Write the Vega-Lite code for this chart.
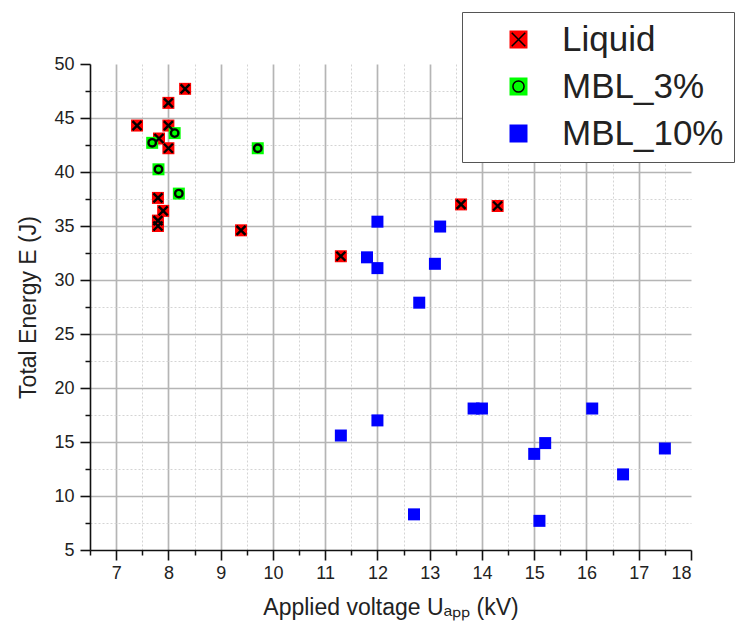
{
  "$schema": "https://vega.github.io/schema/vega-lite/v6.json",
  "width": 601,
  "height": 486,
  "autosize": {"type": "none"},
  "padding": {"left": 90, "top": 64, "right": 50, "bottom": 80},
  "background": "white",
  "config": {
    "view": {"stroke": null},
    "font": "Liberation Sans",
    "axis": {
      "labelFont": "Liberation Sans",
      "titleFont": "Liberation Sans",
      "labelFontSize": 18,
      "titleFontSize": 22,
      "titleFontWeight": "normal",
      "labelColor": "#222",
      "titleColor": "#222",
      "tickColor": "#111",
      "domainColor": "#111"
    }
  },
  "data": {
    "values": [
      {"U": 8.32, "E": 47.7, "group": "Liquid"},
      {"U": 8.0, "E": 46.4, "group": "Liquid"},
      {"U": 7.4, "E": 44.3, "group": "Liquid"},
      {"U": 8.0, "E": 44.3, "group": "Liquid"},
      {"U": 7.82, "E": 43.1, "group": "Liquid"},
      {"U": 8.0, "E": 42.2, "group": "Liquid"},
      {"U": 7.8, "E": 37.6, "group": "Liquid"},
      {"U": 7.9, "E": 36.4, "group": "Liquid"},
      {"U": 7.8, "E": 35.5, "group": "Liquid"},
      {"U": 7.8, "E": 35.0, "group": "Liquid"},
      {"U": 9.39, "E": 34.6, "group": "Liquid"},
      {"U": 11.3, "E": 32.2, "group": "Liquid"},
      {"U": 13.6, "E": 37.0, "group": "Liquid"},
      {"U": 14.3, "E": 36.85, "group": "Liquid"},
      {"U": 8.12, "E": 43.6, "group": "MBL_3%"},
      {"U": 7.69, "E": 42.7, "group": "MBL_3%"},
      {"U": 9.71, "E": 42.2, "group": "MBL_3%"},
      {"U": 7.81, "E": 40.25, "group": "MBL_3%"},
      {"U": 8.2, "E": 38.0, "group": "MBL_3%"},
      {"U": 12.0, "E": 35.4, "group": "MBL_10%"},
      {"U": 13.2, "E": 34.95, "group": "MBL_10%"},
      {"U": 11.8, "E": 32.1, "group": "MBL_10%"},
      {"U": 12.0, "E": 31.1, "group": "MBL_10%"},
      {"U": 13.1, "E": 31.5, "group": "MBL_10%"},
      {"U": 12.8, "E": 27.9, "group": "MBL_10%"},
      {"U": 12.0, "E": 17.0, "group": "MBL_10%"},
      {"U": 13.84, "E": 18.1, "group": "MBL_10%"},
      {"U": 14.0, "E": 18.1, "group": "MBL_10%"},
      {"U": 16.11, "E": 18.1, "group": "MBL_10%"},
      {"U": 15.21, "E": 14.9, "group": "MBL_10%"},
      {"U": 15.0, "E": 13.9, "group": "MBL_10%"},
      {"U": 17.5, "E": 14.4, "group": "MBL_10%"},
      {"U": 16.7, "E": 12.0, "group": "MBL_10%"},
      {"U": 12.7, "E": 8.3, "group": "MBL_10%"},
      {"U": 15.1, "E": 7.7, "group": "MBL_10%"},
      {"U": 11.3, "E": 15.6, "group": "MBL_10%"}
    ]
  },
  "layer": [
    {
      "mark": {"type": "point", "opacity": 0},
      "encoding": {
        "x": {
          "field": "U", "type": "quantitative",
          "scale": {"domain": [6.5, 18], "nice": false, "zero": false},
          "axis": {
            "orient": "bottom", "title": null, "labels": false, "domain": false,
            "values": [6.5, 7.5, 8.5, 9.5, 10.5, 11.5, 12.5, 13.5, 14.5, 15.5, 16.5, 17.5],
            "tickSize": 5, "tickWidth": 1.5,
            "grid": true, "gridColor": "#d4d4d4", "gridDash": [2, 2], "gridWidth": 1
          }
        },
        "y": {
          "field": "E", "type": "quantitative",
          "scale": {"domain": [5, 50], "nice": false, "zero": false},
          "axis": {
            "orient": "left", "title": null, "labels": false, "domain": false,
            "values": [7.5, 12.5, 17.5, 22.5, 27.5, 32.5, 37.5, 42.5, 47.5],
            "tickSize": 5, "tickWidth": 1.5,
            "grid": true, "gridColor": "#d4d4d4", "gridDash": [2, 2], "gridWidth": 1
          }
        }
      }
    },
    {
      "mark": {"type": "point", "opacity": 0},
      "encoding": {
        "x": {
          "field": "U", "type": "quantitative",
          "axis": {
            "orient": "bottom", "title": null, "labels": false, "domain": false, "ticks": false,
            "values": [7, 8, 9, 10, 11, 12, 13, 14, 15, 16, 17],
            "grid": true, "gridColor": "#b5b5b5", "gridWidth": 1.7
          }
        },
        "y": {
          "field": "E", "type": "quantitative",
          "axis": {
            "orient": "left", "title": null, "labels": false, "domain": false, "ticks": false,
            "values": [10, 15, 20, 25, 30, 35, 40, 45],
            "grid": true, "gridColor": "#b5b5b5", "gridWidth": 1.7
          }
        }
      }
    },
    {
      "mark": {"type": "point", "shape": "square", "filled": true, "size": 144, "opacity": 1},
      "encoding": {
        "x": {
          "field": "U", "type": "quantitative",
          "axis": {
            "orient": "bottom", "title": "Applied voltage Uₐₚₚ (kV)",
            "values": [7, 8, 9, 10, 11, 12, 13, 14, 15, 16, 17, 18],
            "grid": false, "domainWidth": 1.6, "tickWidth": 1.6, "tickSize": 10,
            "labelPadding": 4, "titlePadding": 14, "titleFontSize": 23
          }
        },
        "y": {
          "field": "E", "type": "quantitative",
          "axis": {
            "orient": "left", "title": "Total Energy E (J)",
            "values": [5, 10, 15, 20, 25, 30, 35, 40, 45, 50],
            "grid": false, "domainWidth": 1.6, "tickWidth": 1.6, "tickSize": 10,
            "labelPadding": 6, "titlePadding": 13, "titleFontSize": 23
          }
        },
        "fill": {
          "field": "group", "type": "nominal",
          "scale": {"domain": ["Liquid", "MBL_3%", "MBL_10%"], "range": ["#ff0000", "#00ff00", "#0000ff"]},
          "legend": {
            "orient": "none", "legendX": 372, "legendY": -52, "title": null, "zindex": 1,
            "symbolType": "square", "symbolSize": 324,
            "symbolOffset": 29, "labelOffset": 26,
            "labelFont": "Liberation Sans", "labelFontSize": 35, "labelColor": "#222",
            "padding": 10, "rowPadding": 11,
            "strokeColor": "#555", "fillColor": "white",
            "labelLimit": 400,
            "encode": {"legend": {"update": {"strokeWidth": {"value": 2}}}}
          }
        }
      }
    },
    {
      "transform": [{"filter": "datum.group !== 'MBL_10%'"}],
      "mark": {"type": "point", "filled": true, "fill": "#00ff00", "stroke": "black", "strokeWidth": 2.4, "size": 144, "opacity": 1},
      "encoding": {
        "x": {"field": "U", "type": "quantitative", "axis": null},
        "y": {"field": "E", "type": "quantitative", "axis": null},
        "shape": {
          "field": "group", "type": "nominal",
          "scale": {"range": ["M-0.75,-0.75L0.75,0.75M0.75,-0.75L-0.75,0.75", "M-0.62,0A0.62,0.62,0,1,0,0.62,0A0.62,0.62,0,1,0,-0.62,0Z"]},
          "legend": {
            "orient": "none", "legendX": 372, "legendY": -52, "title": null, "zindex": 2,
            "symbolSize": 324,
            "symbolOffset": 29, "labelOffset": 26,
            "labelFont": "Liberation Sans", "labelFontSize": 35, "labelOpacity": 0,
            "padding": 10, "rowPadding": 11,
            "labelLimit": 400,
            "encode": {"symbols": {"update": {"stroke": {"value": "black"}, "strokeWidth": {"value": 2.6}, "fill": {"value": "#00ff00"}, "opacity": {"value": 1}}}}
          }
        }
      }
    }
  ],
  "resolve": {"axis": {"x": "independent", "y": "independent"}}
}
